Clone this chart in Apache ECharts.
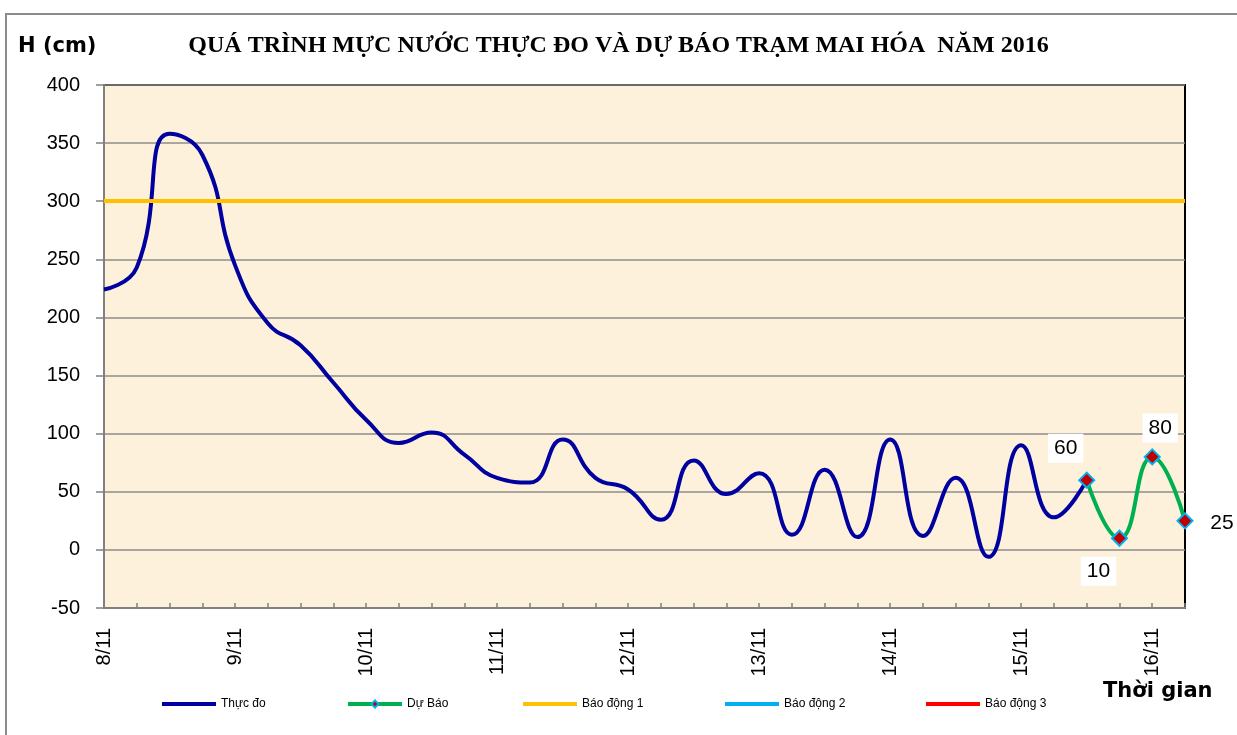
<!DOCTYPE html>
<html>
<head>
<meta charset="utf-8">
<script src="https://cdn.jsdelivr.net/npm/echarts@6/dist/echarts.min.js"></script>
<style>
html,body{margin:0;padding:0;background:#fff;}
#chart{width:1237px;height:735px;}
</style>
</head>
<body>
<div id="chart"></div>
<script>
// ---- Data (6-hourly) ----
const categories = [
  '8/11 0h','8/11 6h','8/11 12h','8/11 18h',
  '9/11 0h','9/11 6h','9/11 12h','9/11 18h',
  '10/11 0h','10/11 6h','10/11 12h','10/11 18h',
  '11/11 0h','11/11 6h','11/11 12h','11/11 18h',
  '12/11 0h','12/11 6h','12/11 12h','12/11 18h',
  '13/11 0h','13/11 6h','13/11 12h','13/11 18h',
  '14/11 0h','14/11 6h','14/11 12h','14/11 18h',
  '15/11 0h','15/11 6h','15/11 12h','15/11 18h',
  '16/11 0h','16/11 6h'
];
const observed = [
  224, 243, 358, 340, 245, 195, 176, 144,
  112, 92, 101, 82, 62, 58, 95, 62,
  52, 26, 77, 48, 66, 13, 69, 11,
  95, 12, 62, -6, 90, 28, 60
];
const forecastStart = '15/11 12h';
const forecast = [60, 10, 80, 25];
const alarm1 = 300;
const legendNames = ['Thực đo', 'Dự Báo', 'Báo động 1', 'Báo động 2', 'Báo động 3'];
const yTicks = {min: -50, max: 400, interval: 50};

// ---- Styles ----
const labelOffsets = [[-21, -32], [-21, 33], [8, -29], [37, 2]];
const legendLefts = [162, 346, 523, 725, 926];
const FONT = 'Liberation Sans, Arial, sans-serif';

const startIdx = categories.indexOf(forecastStart);
const forecastData = categories.map(() => null);
forecast.forEach((v, i) => {
  forecastData[startIdx + i] = {
    value: v,
    label: {show: true, offset: labelOffsets[i]}
  };
});

const legends = legendNames.map((name, i) => {
  const isForecast = name === 'Dự Báo';
  return {
    left: legendLefts[i],
    top: 698,
    itemWidth: 54,
    itemHeight: isForecast ? 9 : 4,
    itemGap: 0,
    padding: 0,
    textStyle: {fontFamily: FONT, fontSize: 12, color: '#000'},
    lineStyle: {width: 4},
    data: [isForecast ? {name: name, lineStyle: {width: 4, color: '#00B050'}} : {name: name, icon: 'rect'}]
  };
});

const chart = echarts.init(document.getElementById('chart'));
chart.setOption({
  animation: false,
  backgroundColor: '#fff',
  title: {
    text: 'QUÁ TRÌNH MỰC NƯỚC THỰC ĐO VÀ DỰ BÁO TRẠM MAI HÓA  NĂM 2016',
    left: 'center',
    top: 29,
    textStyle: {fontFamily: 'Liberation Serif, Times New Roman, serif', fontWeight: 'bold', fontSize: 24, color: '#000'}
  },
  graphic: [
    {type: 'rect', shape: {x: 6, y: 14, width: 1400, height: 900}, style: {fill: 'none', stroke: '#8c8c8c', lineWidth: 2}, silent: true, z: -10},
    {type: 'text', left: 18, top: 36, style: {text: 'H (cm)', font: 'bold 21px "DejaVu Sans", sans-serif', fill: '#000'}},
    {type: 'text', left: 1103, top: 681, style: {text: 'Thời gian', font: 'bold 21px "DejaVu Sans", sans-serif', fill: '#000'}}
  ],
  legend: legends,
  grid: {
    left: 104, right: 52, top: 85, bottom: 127,
    show: true, backgroundColor: '#FDF1DC', borderColor: '#000', borderWidth: 2
  },
  xAxis: {
    type: 'category',
    data: categories,
    boundaryGap: false,
    axisLine: {onZero: false, lineStyle: {color: '#808080', width: 2}},
    axisTick: {show: true, inside: true, length: 5, interval: 0, lineStyle: {color: '#808080', width: 1.5}},
    axisLabel: {
      interval: 3, rotate: 90, margin: 20,
      fontFamily: FONT, fontSize: 20, color: '#000',
      formatter: v => v.split(' ')[0]
    },
    splitLine: {show: false}
  },
  yAxis: {
    type: 'value',
    min: yTicks.min, max: yTicks.max, interval: yTicks.interval,
    axisLine: {show: true, lineStyle: {color: '#808080', width: 2}},
    axisTick: {show: true, length: 8, lineStyle: {color: '#808080', width: 1.5}},
    axisLabel: {fontFamily: FONT, fontSize: 20, color: '#000', margin: 24},
    splitLine: {show: true, lineStyle: {color: '#8c8c8c', width: 1.5}}
  },
  series: [
    {
      name: 'Thực đo', type: 'line', data: observed, smooth: 0.5,
      showSymbol: false, symbol: 'none',
      lineStyle: {color: '#0000A0', width: 4}, itemStyle: {color: '#0000A0'}, z: 3
    },
    {
      name: 'Dự Báo', type: 'line', data: forecastData, smooth: 0.5,
      symbol: 'diamond', symbolSize: 15, showAllSymbol: true,
      lineStyle: {color: '#00B050', width: 4},
      itemStyle: {color: '#C00000', borderColor: '#00B0F0', borderWidth: 2},
      label: {
        position: 'inside', formatter: '{c}',
        fontFamily: FONT, fontSize: 21, color: '#000',
        backgroundColor: '#fff', padding: [4, 6]
      },
      z: 4
    },
    {
      name: 'Báo động 1', type: 'line', data: [],
      lineStyle: {color: '#FFC000', width: 4}, itemStyle: {color: '#FFC000'}, symbol: 'none',
      markLine: {
        silent: true, symbol: 'none', label: {show: false},
        lineStyle: {color: '#FFC000', width: 4, type: 'solid'},
        data: [{yAxis: alarm1}]
      },
      z: 2
    },
    {
      name: 'Báo động 2', type: 'line', data: [], symbol: 'none',
      lineStyle: {color: '#00B0F0', width: 4}, itemStyle: {color: '#00B0F0'}
    },
    {
      name: 'Báo động 3', type: 'line', data: [], symbol: 'none',
      lineStyle: {color: '#FF0000', width: 4}, itemStyle: {color: '#FF0000'}
    }
  ]
});
</script>
</body>
</html>
